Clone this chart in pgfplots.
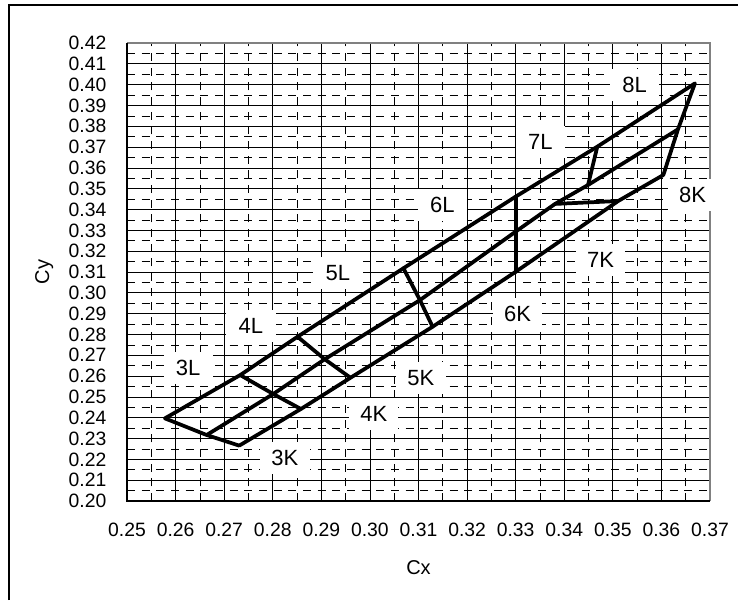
\documentclass[border=0pt]{standalone}
\usepackage{fontspec}
\setmainfont{Liberation Sans}
\usepackage{pgfplots}
\pgfplotsset{compat=1.18}
\tikzset{lbl/.style={fill=white, inner sep=0pt, minimum width=37pt, minimum height=24pt,
    font=\fontsize{16.5}{18}\selectfont},
  ser/.style={black, solid, line width=2.8pt, line join=round, line cap=round, mark=none}}
\begin{document}
\begin{tikzpicture}
\useasboundingbox (0,0) rectangle (553.5pt,450pt);
% chart area frame (only left and top edges are in view)
\draw[line width=1.2pt] (6.75pt,0) -- (6.75pt,446.25pt) -- (553.5pt,446.25pt);
\begin{axis}[
  at={(95.25pt,74.25pt)}, anchor=south west,
  scale only axis, width=437.25pt, height=343.5pt,
  xmin=0.25, xmax=0.37, ymin=0.20, ymax=0.42,
  xtick={0.25,0.26,0.27,0.28,0.29,0.30,0.31,0.32,0.33,0.34,0.35,0.36,0.37},
  ytick={0.20,0.21,0.22,0.23,0.24,0.25,0.26,0.27,0.28,0.29,0.30,0.31,0.32,0.33,0.34,0.35,0.36,0.37,0.38,0.39,0.40,0.41,0.42},
  minor x tick num=1, minor y tick num=1,
  grid=both,
  major grid style={black, line width=0.55pt},
  minor grid style={black, line width=0.5pt, dash pattern=on 6pt off 5pt},
  tick style={draw=none},
  axis line style={draw=none},
  scaled ticks=false,
  /pgf/number format/fixed, /pgf/number format/fixed zerofill,
  /pgf/number format/precision=2,
  /pgf/number format/assume math mode=true,
  ticklabel style={font=\fontsize{14.5}{16}\selectfont},
  xticklabel style={yshift=-13pt},
  yticklabel style={xshift=-12pt},
  xlabel={Cx}, ylabel={Cy},
  label style={font=\fontsize{15}{17}\selectfont},
  xlabel style={at={(axis description cs:0.5,-0.146)}, anchor=center},
  ylabel style={at={(axis description cs:-0.142,0.5)}, anchor=center},
  clip=false,
]
% upper (L) boundary
\addplot[ser] coordinates {(0.2578,0.2397) (0.2733,0.2605) (0.2851,0.2789) (0.3069,0.3118)
  (0.3300,0.3462) (0.3468,0.3702) (0.3669,0.4006)};
% middle line
\addplot[ser] coordinates {(0.2664,0.2317) (0.2801,0.2514) (0.2907,0.2681) (0.3103,0.2965)
  (0.3300,0.3294) (0.3381,0.3427) (0.3449,0.3518) (0.3634,0.3785)};
% lower (K) boundary
\addplot[ser] coordinates {(0.2731,0.2266) (0.2858,0.2442) (0.2960,0.2592) (0.3129,0.2837)
  (0.3300,0.3101) (0.3511,0.3441) (0.3604,0.3566)};
% ends
\addplot[ser] coordinates {(0.2578,0.2397) (0.2664,0.2317) (0.2731,0.2266)};
\addplot[ser] coordinates {(0.3669,0.4006) (0.3634,0.3785) (0.3604,0.3566)};
% cross lines
\addplot[ser] coordinates {(0.2733,0.2605) (0.2801,0.2514) (0.2858,0.2442)};
\addplot[ser] coordinates {(0.2851,0.2789) (0.2907,0.2681) (0.2960,0.2592)};
\addplot[ser] coordinates {(0.3069,0.3118) (0.3103,0.2965) (0.3129,0.2837)};
\addplot[ser] coordinates {(0.3300,0.3462) (0.3300,0.3294) (0.3300,0.3101)};
\addplot[ser] coordinates {(0.3468,0.3702) (0.3449,0.3518)};
\addplot[ser] coordinates {(0.3381,0.3427) (0.3511,0.3441)};
% plot area border
\draw[gray, line width=1.2pt] (rel axis cs:0,1) -- (rel axis cs:1,1) -- (rel axis cs:1,0);
\draw[black, line width=1.2pt] (rel axis cs:0,1) -- (rel axis cs:0,0) -- (rel axis cs:1,0);
% labels
\node[lbl] at (axis cs:0.2626,0.2640) {3L};
\node[lbl] at (axis cs:0.2755,0.2841) {4L};
\node[lbl] at (axis cs:0.2934,0.3097) {5L};
\node[lbl] at (axis cs:0.3149,0.3422) {6L};
\node[lbl] at (axis cs:0.3351,0.3726) {7L};
\node[lbl] at (axis cs:0.3545,0.3998) {8L};
\node[lbl] at (axis cs:0.2825,0.2205) {3K};
\node[lbl] at (axis cs:0.3008,0.2418) {4K};
\node[lbl] at (axis cs:0.3105,0.2589) {5K};
\node[lbl] at (axis cs:0.3304,0.2898) {6K};
\node[lbl] at (axis cs:0.3475,0.3158) {7K};
\node[lbl] at (axis cs:0.3664,0.3470) {8K};
\end{axis}
\end{tikzpicture}
\end{document}
